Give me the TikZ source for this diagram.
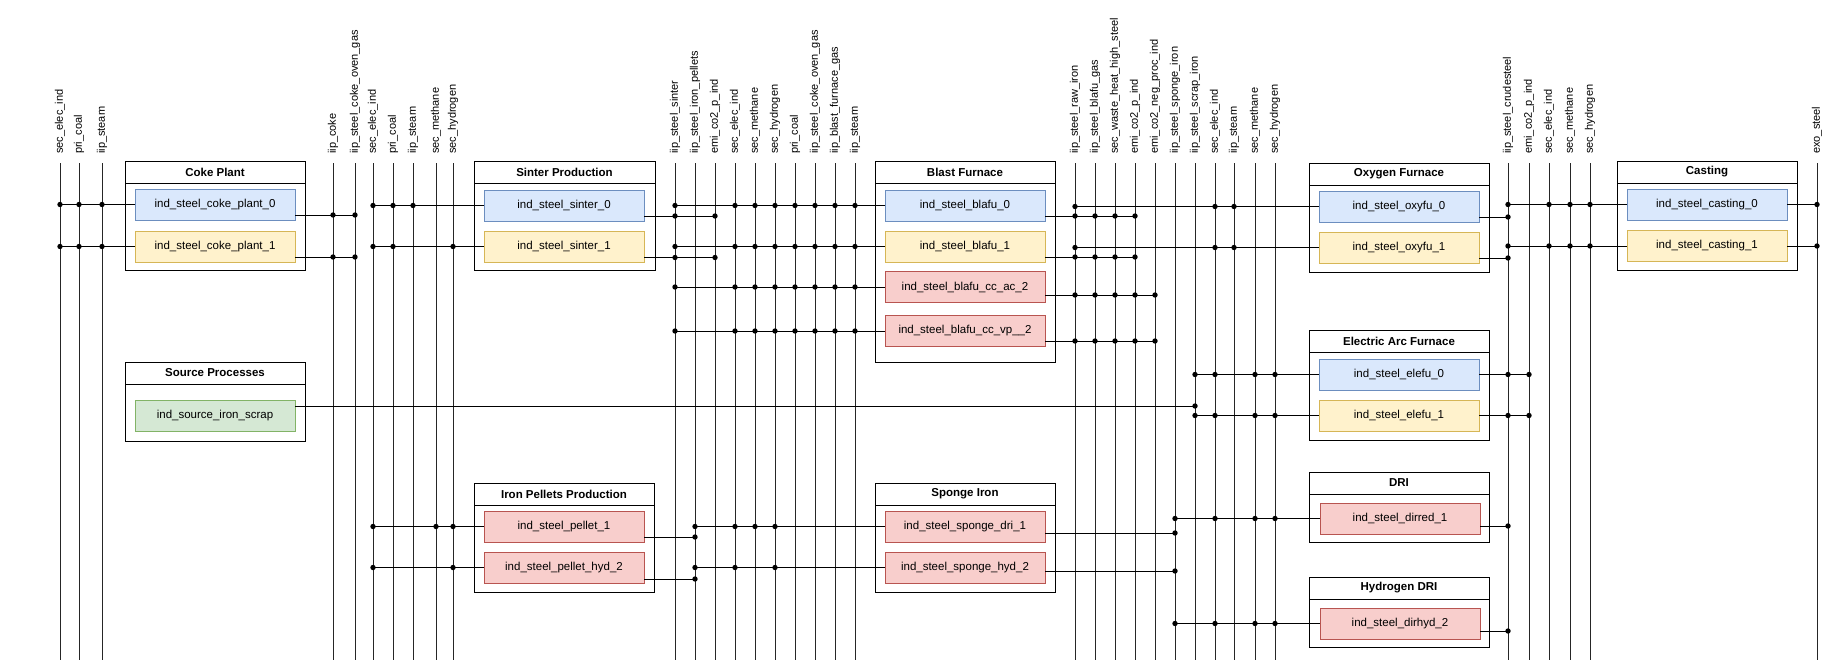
\documentclass[tikz,border=0pt]{standalone}
\usepackage{fontspec}
\setmainfont{Liberation Sans}
\begin{document}
\begin{tikzpicture}[x=1pt,y=-1pt,
  bus/.style={line width=1pt,black!85},
  wire/.style={line width=1pt,black},
  lbl/.style={rotate=90,anchor=west,font=\fontsize{11}{12}\selectfont,inner sep=0pt},
  pbox/.style={draw,line width=0.8pt,minimum width=160pt,minimum height=31pt,inner sep=0pt,font=\fontsize{11.5}{13}\selectfont},
  blue/.style={pbox,fill=blue!15!cyan!5!white,draw=blue!40!gray},
  yel/.style={pbox,fill=yellow!20!orange!8!white,draw=orange!60!yellow!80!black},
  red/.style={pbox,fill=red!20!white,draw=red!50!gray},
  grn/.style={pbox,fill=green!15!gray!10!white,draw=green!50!gray},
  ttl/.style={font=\bfseries\fontsize{11.5}{13}\selectfont,inner sep=0pt},
  grp/.style={draw,line width=0.9pt}]
\useasboundingbox (0,0) rectangle (1832,665);
\definecolor{cb}{HTML}{DAE8FC}\definecolor{cbd}{HTML}{6C8EBF}
\definecolor{cy}{HTML}{FFF2CC}\definecolor{cyd}{HTML}{D6B656}
\definecolor{cr}{HTML}{F8CECC}\definecolor{crd}{HTML}{B85450}
\definecolor{cg}{HTML}{D5E8D4}\definecolor{cgd}{HTML}{82B366}
\tikzset{blue/.style={pbox,fill=cb,draw=cbd},yel/.style={pbox,fill=cy,draw=cyd},
  red/.style={pbox,fill=cr,draw=crd},grn/.style={pbox,fill=cg,draw=cgd}}
% buses
\foreach \n/\x/\t in {
 A1/60/sec\_elec\_ind, A2/79/pri\_coal, A3/102/iip\_steam,
 P1/333/iip\_coke, P2/355/iip\_steel\_coke\_oven\_gas,
 B1/373/sec\_elec\_ind, B2/393/pri\_coal, B3/413/iip\_steam, B4/436/sec\_methane, B5/453/sec\_hydrogen,
 C1/675/iip\_steel\_sinter, C2/695/iip\_steel\_iron\_pellets, C3/715/emi\_co2\_p\_ind, C4/735/sec\_elec\_ind,
 C5/755/sec\_methane, C6/775/sec\_hydrogen, C7/795/pri\_coal, C8/815/iip\_steel\_coke\_oven\_gas,
 C9/835/iip\_blast\_furnace\_gas, C10/855/iip\_steam,
 D1/1075/iip\_steel\_raw\_iron, D2/1095/iip\_steel\_blafu\_gas, D3/1115/sec\_waste\_heat\_high\_steel,
 D4/1135/emi\_co2\_p\_ind, D5/1155/emi\_co2\_neg\_proc\_ind, D6/1175/iip\_steel\_sponge\_iron,
 D7/1195/iip\_steel\_scrap\_iron, D8/1215/sec\_elec\_ind, D9/1234/iip\_steam, D10/1255/sec\_methane, D11/1275/sec\_hydrogen,
 E1/1508/iip\_steel\_crudesteel, E2/1529/emi\_co2\_p\_ind, E3/1549/sec\_elec\_ind, E4/1570/sec\_methane, E5/1590/sec\_hydrogen,
 F1/1817/exo\_steel}
{ \coordinate (\n) at (\x,163); \coordinate (\n b) at (\x,660);
  \draw[bus] (\n) -- (\n b);
  \node[lbl] (l\n) at (\x,154) {\t}; }
% group boxes
\newcommand\grpbox[6]{% name, x1,y1,x2,y2, title
  \draw[grp,fill=white] (#2,#3) rectangle (#4,#5);
  \draw[grp] (#2,#3+22) -- (#4,#3+22);
  \node[ttl] (#1) at ({(#2+#4)/2},#3+11) {#6};}
\grpbox{gCoke}{125}{161}{305}{270}{Coke Plant}
\grpbox{gSint}{474}{161}{655}{270}{Sinter Production}
\grpbox{gBlast}{875}{161}{1055}{362}{Blast Furnace}
\grpbox{gOxy}{1309}{163}{1489}{272}{Oxygen Furnace}
\grpbox{gCast}{1617}{161}{1797}{270}{Casting}
\grpbox{gSrc}{125}{362}{305}{441}{Source Processes}
\grpbox{gEaf}{1309}{330}{1489}{440}{Electric Arc Furnace}
\grpbox{gDri}{1309}{472}{1489}{542}{DRI}
\grpbox{gHdri}{1309}{577}{1489}{647}{Hydrogen DRI}
\grpbox{gPel}{474}{483}{654}{592}{Iron Pellets Production}
\grpbox{gSpo}{875}{483}{1055}{592}{Sponge Iron}
% process nodes
\node[blue] (cp0) at (215,204.5) {ind\_steel\_coke\_plant\_0};
\node[yel]  (cp1) at (215,246.5) {ind\_steel\_coke\_plant\_1};
\node[blue] (si0) at (564,205.5) {ind\_steel\_sinter\_0};
\node[yel]  (si1) at (564,246.5) {ind\_steel\_sinter\_1};
\node[blue] (bf0) at (965,205.5) {ind\_steel\_blafu\_0};
\node[yel]  (bf1) at (965,246.5) {ind\_steel\_blafu\_1};
\node[red]  (bf2) at (965,287) {ind\_steel\_blafu\_cc\_ac\_2};
\node[red]  (bf3) at (965,331) {ind\_steel\_blafu\_cc\_vp\_\_2};
\node[blue] (ox0) at (1399,206.5) {ind\_steel\_oxyfu\_0};
\node[yel]  (ox1) at (1399,247.5) {ind\_steel\_oxyfu\_1};
\node[blue] (ca0) at (1707,204.5) {ind\_steel\_casting\_0};
\node[yel]  (ca1) at (1707,246) {ind\_steel\_casting\_1};
\node[grn]  (src) at (215,415.5) {ind\_source\_iron\_scrap};
\node[blue] (ea0) at (1399,374.5) {ind\_steel\_elefu\_0};
\node[yel]  (ea1) at (1399,415.5) {ind\_steel\_elefu\_1};
\node[red]  (dr1) at (1400,518.5) {ind\_steel\_dirred\_1};
\node[red]  (dh2) at (1400,623.5) {ind\_steel\_dirhyd\_2};
\node[red]  (pe1) at (564,526.5) {ind\_steel\_pellet\_1};
\node[red]  (pe2) at (564,567.5) {ind\_steel\_pellet\_hyd\_2};
\node[red]  (sp1) at (965,526.5) {ind\_steel\_sponge\_dri\_1};
\node[red]  (sp2) at (965,567.5) {ind\_steel\_sponge\_hyd\_2};
% helpers
\newcommand\inrow[3]{\draw[wire] (#1.west) -- (#1.west -| #2);
  \foreach \b in {#3}{\fill (#1.west -| \b) circle (2.7pt);}}
\newcommand\outrow[4]{\coordinate (#1o) at ([yshift=#2]#1.east);
  \draw[wire] (#1o) -- (#1o -| #3);
  \foreach \b in {#4}{\fill (#1o -| \b) circle (2.7pt);}}
% coke
\inrow{cp0}{A1}{A1,A2,A3}\inrow{cp1}{A1}{A1,A2,A3}
\outrow{cp0}{-10.5pt}{P2}{P1,P2}\outrow{cp1}{-10.5pt}{P2}{P1,P2}
% sinter
\inrow{si0}{B1}{B1,B2,B3}\inrow{si1}{B1}{B1,B2,B5}
\outrow{si0}{-10.5pt}{C3}{C1,C3}\outrow{si1}{-11pt}{C3}{C1,C3}
% blast
\foreach \p in {bf0,bf1,bf2,bf3}{\inrow{\p}{C1}{C1,C4,C5,C6,C7,C8,C9,C10}}
\outrow{bf0}{-10.5pt}{D4}{D1,D2,D3,D4}\outrow{bf1}{-10.5pt}{D4}{D1,D2,D3,D4}
\outrow{bf2}{-8pt}{D5}{D1,D2,D3,D4,D5}\outrow{bf3}{-10pt}{D5}{D1,D2,D3,D4,D5}
% oxygen
\inrow{ox0}{D1}{D1,D8,D9}\inrow{ox1}{D1}{D1,D8,D9}
\outrow{ox0}{-10.5pt}{E1}{E1}\outrow{ox1}{-10.5pt}{E1}{E1}
% casting
\inrow{ca0}{E1}{E1,E3,E4,E5}\inrow{ca1}{E1}{E1,E3,E4,E5}
\outrow{ca0}{0pt}{F1}{F1}\outrow{ca1}{0pt}{F1}{F1}
% source
\outrow{src}{9.5pt}{D7}{D7}
% EAF
\inrow{ea0}{D7}{D7,D8,D10,D11}\inrow{ea1}{D7}{D7,D8,D10,D11}
\outrow{ea0}{0pt}{E2}{E1,E2}\outrow{ea1}{0pt}{E2}{E1,E2}
% DRI
\inrow{dr1}{D6}{D6,D8,D10,D11}\outrow{dr1}{-7.5pt}{E1}{E1}
\inrow{dh2}{D6}{D6,D8,D10,D11}\outrow{dh2}{-7.5pt}{E1}{E1}
% pellets
\inrow{pe1}{B1}{B1,B4,B5}\inrow{pe2}{B1}{B1,B5}
\outrow{pe1}{-10.5pt}{C2}{C2}\outrow{pe2}{-11.5pt}{C2}{C2}
% sponge
\inrow{sp1}{C2}{C2,C4,C5,C6}\inrow{sp2}{C2}{C2,C4,C6}
\outrow{sp1}{-6.5pt}{D6}{D6}\outrow{sp2}{-3.5pt}{D6}{D6}
\end{tikzpicture}
\end{document}
